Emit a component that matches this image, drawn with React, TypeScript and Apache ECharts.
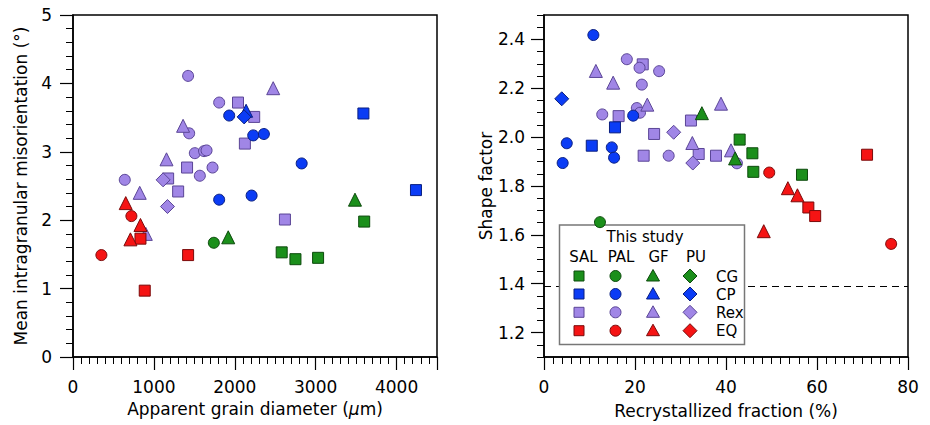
import React, { useEffect, useRef } from "react";
import * as echarts from "echarts";

// ---------- Left plot: apparent grain diameter (µm) vs mean intragranular misorientation (°)
const gSAL_CG = [[2580, 1.53], [2750, 1.43], [3030, 1.45], [3600, 1.98]];
const gSAL_CP = [[3590, 3.56], [4240, 2.44]];
const gSAL_Rex = [[2040, 3.72], [2240, 3.51], [2125, 3.12], [1410, 2.77], [1176, 2.61], [1300, 2.42], [2620, 2.01]];
const gSAL_EQ = [[834, 1.73], [1423, 1.49], [887, 0.97]];
const gPAL_CG = [[1741, 1.67]];
const gPAL_CP = [[1931, 3.53], [2228, 3.24], [2360, 3.26], [1807, 2.3], [2208, 2.36], [2827, 2.83]];
const gPAL_Rex = [[1423, 4.11], [1807, 3.72], [1436, 3.27], [1506, 2.98], [1620, 3.01], [1651, 3.02], [1725, 2.77], [1568, 2.65], [640, 2.59]];
const gPAL_EQ = [[722, 2.06], [351, 1.49]];
const gGF_CG = [[1919, 1.75], [3486, 2.3]];
const gGF_CP = [[2140, 3.6]];
const gGF_Rex = [[2475, 3.93], [1361, 3.38], [1156, 2.89], [825, 2.4], [900, 1.8]];
const gGF_EQ = [[652, 2.25], [834, 1.93], [710, 1.72]];
const gPU_CG: number[][] = [];
const gPU_CP = [[2116, 3.51]];
const gPU_Rex = [[1114, 2.59], [1168, 2.2]];
const gPU_EQ: number[][] = [];

// ---------- Right plot: recrystallized fraction (%) vs shape factor
const rSAL_CG = [[43.0, 1.99], [45.8, 1.934], [46.0, 1.858], [56.7, 1.846]];
const rSAL_CP = [[15.6, 2.04], [10.5, 1.965]];
const rSAL_Rex = [[21.7, 2.298], [16.4, 2.086], [32.3, 2.068], [24.2, 2.013], [21.9, 1.924], [34.0, 1.931], [37.8, 1.924]];
const rSAL_EQ = [[71.0, 1.928], [58.1, 1.712], [59.6, 1.677]];
const rPAL_CG = [[12.3, 1.652]];
const rPAL_CP = [[10.85, 2.418], [19.6, 2.088], [5.0, 1.975], [14.9, 1.958], [15.4, 1.916], [4.1, 1.894]];
const rPAL_Rex = [[18.2, 2.319], [21.0, 2.284], [25.3, 2.27], [21.5, 2.215], [20.4, 2.119], [21.1, 2.1], [12.8, 2.093], [27.4, 1.924], [42.4, 1.893]];
const rPAL_EQ = [[49.5, 1.855], [76.3, 1.563]];
const rGF_CG = [[34.7, 2.098], [42.0, 1.913]];
const rGF_CP: number[][] = [];
const rGF_Rex = [[11.4, 2.271], [15.2, 2.223], [22.7, 2.133], [38.9, 2.137], [32.6, 1.976], [41.1, 1.946]];
const rGF_EQ = [[53.6, 1.791], [55.7, 1.762], [48.3, 1.615]];
const rPU_CG: number[][] = [];
const rPU_CP = [[3.9, 2.157]];
const rPU_Rex = [[28.5, 2.02], [32.7, 1.894]];
const rPU_EQ: number[][] = [];

const shapeFactorThreshold = 1.39;

// ---------- Axes / ticks
const leftXMajor = 1000;
const leftXMinor = 100;
const leftYMajor = 1;
const leftYMinor = 0.2;
const rightXMajor = 20;
const rightXMinor = 2;
const rightYTicks = [1.2, 1.4, 1.6, 1.8, 2.0, 2.2, 2.4];
const rightYMinor = 0.05;

// ---------- Legend table
const methods = ["SAL", "PAL", "GF", "PU"];
const types = ["CG", "CP", "Rex", "EQ"];
const legendTitle = "This study";

const FONT = '"DejaVu Sans", Verdana, sans-serif';
const COLORS: Record<string, string> = { CG: "#1b8f1b", CP: "#0b3cf5", Rex: "#a086e6", EQ: "#f51414" };
const BORDERS: Record<string, string> = { CG: "#0c4a0c", CP: "#0a1f80", Rex: "#5a4596", EQ: "#7a0a0a" };
const SYMBOLS: Record<string, string> = { SAL: "rect", PAL: "circle", GF: "triangle", PU: "diamond" };
const SIZES: Record<string, number> = { SAL: 11, PAL: 11, GF: 13, PU: 14 };

const leftData: Record<string, Record<string, number[][]>> = {
  SAL: { CG: gSAL_CG, CP: gSAL_CP, Rex: gSAL_Rex, EQ: gSAL_EQ },
  PAL: { CG: gPAL_CG, CP: gPAL_CP, Rex: gPAL_Rex, EQ: gPAL_EQ },
  GF: { CG: gGF_CG, CP: gGF_CP, Rex: gGF_Rex, EQ: gGF_EQ },
  PU: { CG: gPU_CG, CP: gPU_CP, Rex: gPU_Rex, EQ: gPU_EQ },
};
const rightData: Record<string, Record<string, number[][]>> = {
  SAL: { CG: rSAL_CG, CP: rSAL_CP, Rex: rSAL_Rex, EQ: rSAL_EQ },
  PAL: { CG: rPAL_CG, CP: rPAL_CP, Rex: rPAL_Rex, EQ: rPAL_EQ },
  GF: { CG: rGF_CG, CP: rGF_CP, Rex: rGF_Rex, EQ: rGF_EQ },
  PU: { CG: rPU_CG, CP: rPU_CP, Rex: rPU_Rex, EQ: rPU_EQ },
};

function buildSeries(data: Record<string, Record<string, number[][]>>, axisIdx: number, prefix: string) {
  const out: any[] = [];
  const order = ["Rex", "CG", "EQ", "CP"];
  for (const t of order) {
    for (const m of methods) {
      const d = data[m][t];
      if (!d.length) continue;
      out.push({
        type: "scatter",
        name: `${prefix} ${m} ${t}`,
        xAxisIndex: axisIdx,
        yAxisIndex: axisIdx,
        z: 3,
        symbol: SYMBOLS[m],
        symbolSize: SIZES[m],
        data: d,
        itemStyle: { color: COLORS[t], borderColor: BORDERS[t], borderWidth: 1, opacity: 1 },
        emphasis: { disabled: true },
      });
    }
  }
  return out;
}

const axisCommon = {
  type: "value" as const,
  axisLine: { show: true, onZero: false, lineStyle: { color: "#000", width: 1.5 } },
  splitLine: { show: false },
};

function majorAxis(extra: any) {
  return {
    ...axisCommon,
    axisTick: { show: true, inside: false, length: 13, lineStyle: { color: "#000", width: 1.2 } },
    axisLabel: { color: "#000", fontSize: 17, fontFamily: FONT },
    nameTextStyle: { color: "#000", fontSize: 17, fontFamily: FONT },
    ...extra,
  };
}
function minorAxis(extra: any) {
  return {
    ...axisCommon,
    axisLine: { show: false, onZero: false },
    axisTick: { show: true, inside: false, length: 7, lineStyle: { color: "#000", width: 1 } },
    axisLabel: { show: false },
    ...extra,
  };
}

function legendSymbol(m: string, cx: number, cy: number, t: string) {
  const style = { fill: COLORS[t], stroke: BORDERS[t], lineWidth: 1 };
  if (m === "SAL") return { type: "rect", shape: { x: cx - 5, y: cy - 5, width: 10, height: 10 }, style };
  if (m === "PAL") return { type: "circle", shape: { cx, cy, r: 5.5 }, style };
  if (m === "GF")
    return { type: "polygon", shape: { points: [[cx, cy - 6.5], [cx + 6.5, cy + 5], [cx - 6.5, cy + 5]] }, style };
  return { type: "polygon", shape: { points: [[cx, cy - 7], [cx + 7, cy], [cx, cy + 7], [cx - 7, cy]] }, style };
}

function txt(text: string, x: number, y: number, align = "center") {
  return {
    type: "text",
    x,
    y,
    style: {
      text,
      fill: "#000",
      font: `15px ${FONT}`,
      align,
      textAlign: align,
      verticalAlign: "middle",
      textVerticalAlign: "middle",
    },
  };
}

export default function App() {
  const ref = useRef<HTMLDivElement>(null);
  useEffect(() => {
    if (!ref.current) return;
    const chart = echarts.init(ref.current, null, { renderer: "svg" });

    const colX = [579, 615.5, 653, 690];
    const rowY = [276, 294, 312.3, 330.7];
    const legendEls: any[] = [
      {
        type: "rect",
        shape: { x: 559.5, y: 225, width: 185, height: 119.5 },
        style: { fill: "#fff", stroke: "#777", lineWidth: 1.5 },
      },
      txt(legendTitle, 645, 237),
    ];
    const headerX = [583.5, 621, 658.5, 696];
    methods.forEach((m, j) => legendEls.push(txt(m, headerX[j], 257)));
    types.forEach((t, i) => {
      methods.forEach((m, j) => legendEls.push(legendSymbol(m, colX[j], rowY[i], t)));
      legendEls.push(txt(t, 716, rowY[i] + 0.5, "left"));
    });

    const series = [
      ...buildSeries(leftData, 0, "L"),
      ...buildSeries(rightData, 2, "R"),
    ];
    series.push({
      type: "scatter",
      xAxisIndex: 2,
      yAxisIndex: 2,
      z: 1,
      data: [],
      markLine: {
        silent: true,
        symbol: "none",
        z: 1,
        label: { show: false },
        lineStyle: { color: "#000", width: 1, type: [7, 5] },
        data: [{ yAxis: shapeFactorThreshold }],
      },
    });

    chart.setOption({
      animation: false,
      backgroundColor: "#fff",
      textStyle: { fontFamily: FONT },
      grid: [
        { left: 73, top: 15, width: 364, height: 342, show: true, borderColor: "#000", borderWidth: 1.5, backgroundColor: "transparent" },
        { left: 544, top: 15, width: 364, height: 342, show: true, borderColor: "#000", borderWidth: 1.5, backgroundColor: "transparent" },
      ],
      xAxis: [
        majorAxis({
          gridIndex: 0,
          position: "bottom",
          min: 0,
          max: 4500,
          interval: leftXMajor,
          axisLabel: {
            color: "#000",
            fontSize: 17,
            fontFamily: FONT,
            margin: 21,
            formatter: (v: number) => (v % leftXMajor === 0 ? String(v) : ""),
          },
          name: "Apparent grain diameter ({it|μ}m)",
          nameLocation: "middle",
          nameGap: 43,
          nameTextStyle: {
            color: "#000",
            fontSize: 17,
            fontFamily: FONT,
            rich: { it: { fontStyle: "italic", fontSize: 17, fontFamily: FONT, color: "#000" } },
          },
        }),
        minorAxis({ gridIndex: 0, position: "bottom", min: 0, max: 4500, interval: leftXMinor }),
        majorAxis({
          gridIndex: 1,
          position: "bottom",
          min: 0,
          max: 80,
          interval: rightXMajor,
          axisLabel: { color: "#000", fontSize: 17, fontFamily: FONT, margin: 21 },
          name: "Recrystallized fraction (%)",
          nameLocation: "middle",
          nameGap: 45,
        }),
        minorAxis({ gridIndex: 1, position: "bottom", min: 0, max: 80, interval: rightXMinor }),
      ],
      yAxis: [
        majorAxis({
          gridIndex: 0,
          position: "left",
          min: 0,
          max: 5,
          interval: leftYMajor,
          axisLabel: { color: "#000", fontSize: 17, fontFamily: FONT, margin: 21 },
          name: "Mean intragranular misorientation (°)",
          nameLocation: "middle",
          nameRotate: 90,
          nameGap: 44,
        }),
        minorAxis({ gridIndex: 0, position: "left", min: 0, max: 5, interval: leftYMinor }),
        majorAxis({
          gridIndex: 1,
          position: "left",
          min: 1.1,
          max: 2.5,
          axisTick: {
            show: true,
            inside: false,
            length: 13,
            customValues: rightYTicks,
            lineStyle: { color: "#000", width: 1.2 },
          },
          axisLabel: {
            color: "#000",
            fontSize: 17,
            fontFamily: FONT,
            margin: 19,
            customValues: rightYTicks,
            formatter: (v: number) => v.toFixed(1),
          },
          name: "Shape factor",
          nameLocation: "middle",
          nameRotate: 90,
          nameGap: 47,
        }),
        minorAxis({ gridIndex: 1, position: "left", min: 1.1, max: 2.5, interval: rightYMinor }),
      ],
      graphic: { elements: legendEls.map((e) => ({ ...e, z: 2 })) },
      series,
    });
    return () => chart.dispose();
  }, []);
  return <div ref={ref} style={{ position: "fixed", left: 0, top: 0, width: 930, height: 425 }} />;
}
